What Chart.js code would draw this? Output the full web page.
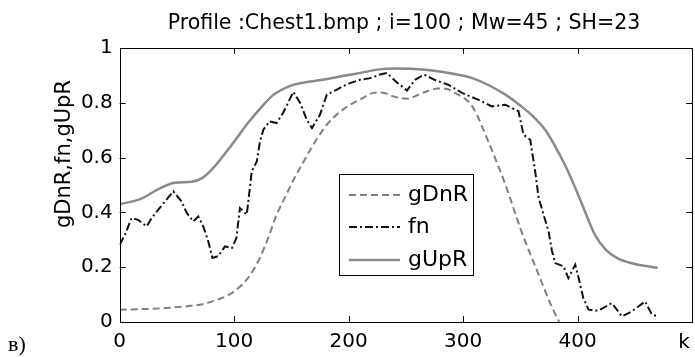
<!DOCTYPE html>
<html><head><meta charset="utf-8">
<script src="https://cdn.jsdelivr.net/npm/chart.js@4.4.1/dist/chart.umd.min.js"></script>
<style>html,body{margin:0;padding:0;background:#fff;}#wrap{width:695px;height:357px;}</style>
</head><body><div id="wrap"><canvas id="c" width="695" height="357"></canvas></div>
<script>
const titleText = 'Profile :Chest1.bmp ; i=100 ; Mw=45 ; SH=23';
const yAxisTitle = 'gDnR,fn,gUpR';
const xAxisTitle = 'k';
const panelLabel = 'в)';
const seriesNames = ['gDnR', 'fn', 'gUpR'];
const xTicks = [0, 100, 200, 300, 400];
const yTicks = [0, 0.2, 0.4, 0.6, 0.8, 1];
const yTickLabels = ['0', '0.2', '0.4', '0.6', '0.8', '1'];

const kDn = [0, 20, 40, 60, 70, 83, 98, 112, 122, 130, 137, 145, 152, 160, 166, 181, 195, 210, 224, 232, 240, 251, 264, 278, 285, 293, 308, 322, 337, 351, 366, 377, 384];
const gDnR = [0.045, 0.047, 0.051, 0.058, 0.063, 0.078, 0.106, 0.16, 0.23, 0.31, 0.39, 0.46, 0.52, 0.58, 0.625, 0.72, 0.775, 0.812, 0.838, 0.835, 0.822, 0.815, 0.835, 0.852, 0.851, 0.836, 0.787, 0.659, 0.501, 0.331, 0.173, 0.06, 0.0];

const kFn = [0, 4.6, 10.5, 16, 23.6, 28, 33.7, 39.6, 46.9, 54, 58.6, 64.3, 68.7, 73, 77.4, 81, 86, 92, 98, 102, 105, 111, 115.4, 119.8, 122.6, 125.5, 131, 137, 143, 151.7, 157.6, 163.5, 168, 175, 181, 189.7, 198.4, 210, 218.8, 227.5, 233.4, 242, 251, 258, 266, 275, 287, 299, 313.5, 325, 336.8, 348.4, 352.8, 358.7, 363, 366, 370.3, 374.7, 377.6, 380.5, 387.8, 392, 398, 401, 405, 409.6, 418, 430, 438.8, 447.5, 459, 465, 470.8];
const fn = [0.282, 0.319, 0.38, 0.373, 0.349, 0.38, 0.41, 0.44, 0.477, 0.44, 0.398, 0.367, 0.385, 0.349, 0.294, 0.234, 0.24, 0.276, 0.27, 0.307, 0.416, 0.392, 0.55, 0.586, 0.66, 0.702, 0.732, 0.726, 0.765, 0.84, 0.8, 0.738, 0.708, 0.757, 0.83, 0.848, 0.868, 0.884, 0.89, 0.903, 0.909, 0.875, 0.845, 0.884, 0.903, 0.884, 0.866, 0.836, 0.811, 0.787, 0.793, 0.769, 0.684, 0.665, 0.55, 0.453, 0.392, 0.331, 0.26, 0.215, 0.203, 0.16, 0.209, 0.16, 0.088, 0.045, 0.041, 0.069, 0.02, 0.039, 0.075, 0.027, 0.02];

const kUp = [0, 19, 33, 48, 63, 72, 83, 98, 112, 125, 134, 149, 160, 181, 210, 227, 240, 254, 278, 308, 337, 350, 360, 372, 380, 390, 401, 415, 425, 435, 445, 458, 470];
const gUpR = [0.43, 0.45, 0.483, 0.508, 0.512, 0.525, 0.568, 0.647, 0.726, 0.79, 0.828, 0.862, 0.873, 0.887, 0.909, 0.922, 0.925, 0.924, 0.915, 0.89, 0.83, 0.79, 0.755, 0.70, 0.645, 0.565, 0.46, 0.32, 0.262, 0.232, 0.217, 0.205, 0.198];

const toPts = (xs, ys) => xs.map((x, i) => ({ x: x, y: ys[i] }));

const styles = [
  { color: '#808080', width: 2, dash: [7, 4] },
  { color: '#111111', width: 2, dash: [8, 3, 2, 3] },
  { color: '#8a8a8a', width: 2.5, dash: [] }
];

const FONT = 'DejaVu Sans';
Chart.defaults.font.family = FONT;
Chart.defaults.color = '#000';

const decor = {
  id: 'decor',
  afterDraw(chart) {
    const ctx = chart.ctx;
    const a = chart.chartArea;
    const xs = chart.scales.x, ys = chart.scales.y;
    ctx.save();
    ctx.strokeStyle = '#000';
    ctx.lineWidth = 1;
    ctx.setLineDash([]);
    ctx.strokeRect(Math.round(a.left) + 0.5, Math.round(a.top) + 0.5, Math.round(a.right - a.left), Math.round(a.bottom - a.top));
    const tl = 6;
    ctx.beginPath();
    xTicks.forEach(v => {
      if (v === 0) return;
      const px = Math.round(xs.getPixelForValue(v)) + 0.5;
      ctx.moveTo(px, a.bottom); ctx.lineTo(px, a.bottom - tl);
      ctx.moveTo(px, a.top); ctx.lineTo(px, a.top + tl);
    });
    yTicks.forEach(v => {
      if (v === 0 || v === 1) return;
      const py = Math.round(ys.getPixelForValue(v)) + 0.5;
      ctx.moveTo(a.left, py); ctx.lineTo(a.left + tl, py);
      ctx.moveTo(a.right, py); ctx.lineTo(a.right - tl, py);
    });
    ctx.stroke();

    let fs = 22;
    ctx.font = fs + 'px "' + FONT + '"';
    while (ctx.measureText(titleText).width > 478 && fs > 10) { fs -= 0.5; ctx.font = fs + 'px "' + FONT + '"'; }
    ctx.fillStyle = '#000';
    ctx.textAlign = 'center';
    ctx.textBaseline = 'alphabetic';
    ctx.fillText(titleText, 404, 29);

    ctx.save();
    ctx.translate(70, 154);
    ctx.rotate(-Math.PI / 2);
    ctx.font = '21px "' + FONT + '"';
    ctx.textAlign = 'center';
    ctx.textBaseline = 'alphabetic';
    ctx.fillText(yAxisTitle, 0, 0);
    ctx.restore();

    ctx.font = '20px "' + FONT + '"';
    ctx.textAlign = 'center';
    ctx.fillText(xAxisTitle, 684, 348);

    ctx.font = '22px "Liberation Serif"';
    ctx.textAlign = 'left';
    ctx.fillText(panelLabel, 8, 351);

    const bx = 339, by = 174, bw = 134, bh = 101;
    ctx.fillStyle = '#fff';
    ctx.fillRect(bx, by, bw, bh);
    ctx.strokeStyle = '#000';
    ctx.lineWidth = 1;
    ctx.strokeRect(bx + 0.5, by + 0.5, bw, bh);
    const rows = [195, 227, 260];
    ctx.font = '22px "' + FONT + '"';
    ctx.textBaseline = 'middle';
    seriesNames.forEach((name, i) => {
      const s = styles[i];
      ctx.strokeStyle = s.color;
      ctx.lineWidth = s.width;
      ctx.setLineDash(s.dash);
      ctx.beginPath();
      ctx.moveTo(349, rows[i]); ctx.lineTo(400, rows[i]);
      ctx.stroke();
      ctx.setLineDash([]);
      ctx.fillStyle = '#000';
      ctx.fillText(name, 408, rows[i]);
    });
    ctx.restore();
  }
};

const datasets = [
  { label: seriesNames[0], data: toPts(kDn, gDnR), cubicInterpolationMode: 'monotone' },
  { label: seriesNames[1], data: toPts(kFn, fn), tension: 0 },
  { label: seriesNames[2], data: toPts(kUp, gUpR), cubicInterpolationMode: 'monotone' }
].map((d, i) => Object.assign(d, {
  borderColor: styles[i].color,
  borderWidth: styles[i].width,
  borderDash: styles[i].dash,
  pointRadius: 0,
  fill: false
}));

new Chart(document.getElementById('c'), {
  type: 'line',
  data: { datasets: datasets },
  options: {
    responsive: false,
    animation: false,
    layout: { padding: { top: 48, right: 3, left: 0, bottom: 0 } },
    plugins: { legend: { display: false }, title: { display: false }, tooltip: { enabled: false } },
    scales: {
      x: {
        type: 'linear', min: 0, max: 500,
        afterFit(s) { s.height = 35; },
        border: { display: false },
        grid: { display: false, drawTicks: false },
        afterBuildTicks(s) { s.ticks = xTicks.map(v => ({ value: v })); },
        ticks: { color: '#000', font: { size: 20 }, padding: 8, maxRotation: 0, autoSkip: false,
          callback: (v) => String(v) }
      },
      y: {
        type: 'linear', min: 0, max: 1,
        afterFit(s) { s.width = 119.7; },
        border: { display: false },
        grid: { display: false, drawTicks: false },
        afterBuildTicks(s) { s.ticks = yTicks.map(v => ({ value: v })); },
        ticks: { color: '#000', font: { size: 20 }, padding: 7, autoSkip: false,
          callback: (v, i) => yTickLabels[yTicks.indexOf(v)] ?? String(v) }
      }
    }
  },
  plugins: [decor]
});
</script>
</body></html>
